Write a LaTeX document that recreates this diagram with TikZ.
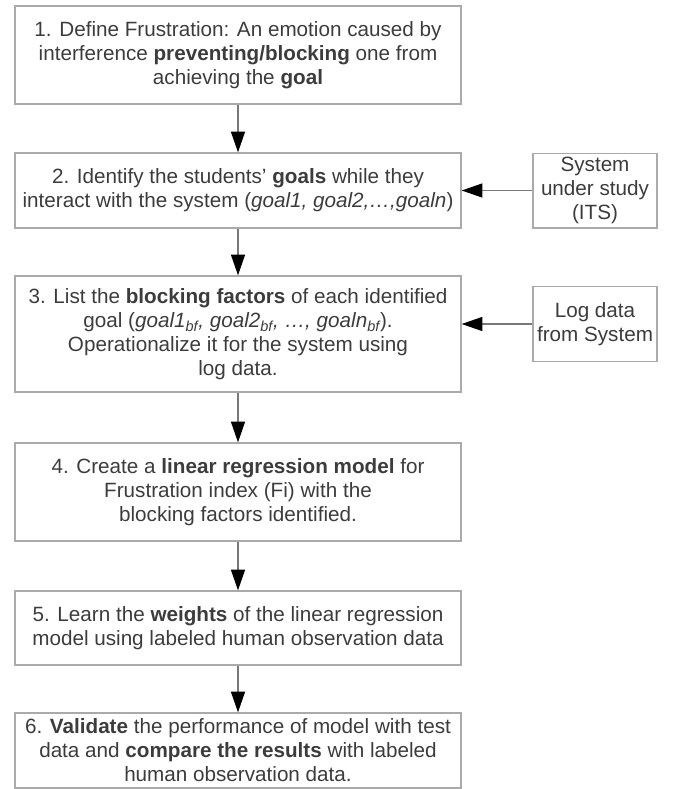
\documentclass[tikz,border=0pt]{standalone}
\usepackage{fontspec}
\setmainfont{Liberation Sans}
\usetikzlibrary{arrows.meta}

\definecolor{boxline}{RGB}{170,170,170}
\definecolor{flowline}{RGB}{120,120,120}
\definecolor{txt}{RGB}{60,60,60}

\tikzset{every picture/.style={line width=0.75pt}}
\tikzset{
  stepbox/.style={draw=boxline, line width=1pt, rectangle, minimum width=334.5pt, inner sep=0pt, align=center, text=txt, font=\fontsize{15.5}{18}\selectfont},
  sourcebox/.style={draw=boxline, line width=1pt, rectangle, minimum width=93pt, minimum height=56pt, inner sep=0pt, align=center, text=txt, font=\fontsize{15.5}{18}\selectfont},
  flow/.style={draw=flowline, line width=0.9pt, -{Triangle[length=15.5pt,width=10.5pt,color=black]}}
}

\begin{document}
\begin{tikzpicture}[x=0.75pt,y=0.75pt,yscale=-1,xscale=1]
\path (0,0) rectangle (681,789); %set diagram area 681 x 789

% Step boxes
\node (define) [stepbox, minimum height=73.5pt] at (238,55) {1. Define Frustration: An emotion caused by\\interference \textbf{preventing/blocking} one from\\achieving the \textbf{goal}};
\node (goals) [stepbox, minimum height=56.25pt] at (238,190.5) {2. Identify the students' \textbf{goals} while they\\interact with the system (\textit{goal1, goal2,\ldots,goaln})};
\node (factors) [stepbox, minimum height=87pt] at (238,334) {3. List the \textbf{blocking factors} of each identified\\goal (\textit{goal1\textsubscript{bf}, goal2\textsubscript{bf}, \ldots, goaln\textsubscript{bf}}).\\Operationalize it for the system using\\log data.};
\node (model) [stepbox, minimum height=73.5pt] at (238,492) {4. Create a \textbf{linear regression model} for\\Frustration index (Fi) with the\\blocking factors identified.};
\node (weights) [stepbox, minimum height=55.5pt] at (238,628) {5. Learn the \textbf{weights} of the linear regression\\model using labeled human observation data};
\node (validate) [stepbox, minimum height=56.25pt] at (238,750.5) {6. \textbf{Validate} the performance of model with test\\data and \textbf{compare the results} with labeled\\human observation data.};

% Input boxes
\node (its) [sourcebox] at (595,190.5) {System\\under study\\(ITS)};
\node (logdata) [sourcebox] at (595,324) {Log data\\from System};

% Connectors
\draw [flow] (define) -- (goals);
\draw [flow] (goals) -- (factors);
\draw [flow] (factors) -- (model);
\draw [flow] (model) -- (weights);
\draw [flow] (weights) -- (validate);
\draw [flow] (its) -- (goals);
\draw [flow] (logdata.west) -- (logdata.west -| factors.east);

\end{tikzpicture}
\end{document}
